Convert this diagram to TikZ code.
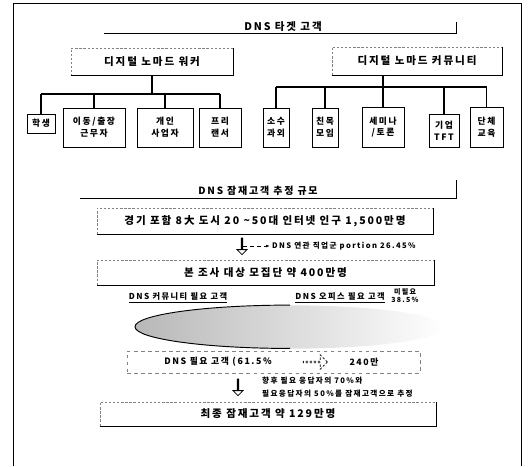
\documentclass[tikz,border=0pt]{standalone}
\usepackage{fontspec}
\setmainfont{Noto Sans CJK KR}[LetterSpace=18]
\usepackage{tikz}
\usetikzlibrary{arrows.meta, positioning, shapes.geometric, shapes.arrows}
\definecolor{faintgray}{RGB}{130,130,130}

\begin{document}
\begin{tikzpicture}[x=0.03cm, y=-0.03cm,
      panel/.style={draw=faintgray, dash pattern=on 2pt off 1.5pt, inner sep=0,
                    font=\fontsize{9}{10}\selectfont\bfseries},
      leaf/.style={draw, line width=0.8pt, inner sep=0, align=center,
                   font=\fontsize{7.5}{10}\selectfont\bfseries},
      heading/.style={inner sep=0, font=\fontsize{9}{10}\selectfont\bfseries},
      label/.style={inner sep=0, font=\fontsize{7.5}{9}\selectfont\bfseries},
      note/.style={inner sep=0, font=\fontsize{6.5}{8}\selectfont\bfseries},
      tree/.style={line width=1.3pt},
      rim/.style={line width=1.1pt},
      downarr/.style={single arrow, draw, line width=0.7pt, rotate=-90, inner sep=0,
                      minimum width=0.3cm, minimum height=0.5cm,
                      single arrow head extend=0.09cm}
  ]
    \useasboundingbox (0,0) rectangle (528,466);
    \draw[line width=0.6pt] (13,466) -- (13,3) -- (521,3) -- (521,466);

    % target customers
    \node[heading] (target) at (283,27) {DNS 타겟 고객};
    \coordinate (t1l) at (104,33);
    \coordinate (t1r) at (456,33);
    \draw[line width=0.5pt] (t1l) -- (t1r) -- ++(0,-11);

    \node[panel, minimum width=4.86cm, minimum height=0.81cm] (worker) at (152,61.5)
      {디지털 노마드 워커};
    \node[panel, minimum width=5.1cm, minimum height=0.84cm] (community) at (417,61)
      {디지털 노마드 커뮤니티};

    \node[leaf, minimum width=0.84cm, minimum height=0.57cm] (student) at (41,123.5) {학생};
    \node[leaf, minimum width=1.86cm, minimum height=1.17cm] (mobile) at (94,127.5) {이동/출장\\근무자};
    \node[leaf, minimum width=1.68cm, minimum height=1.17cm] (business) at (165,127.5) {개인\\사업자};
    \node[leaf, minimum width=1.26cm, minimum height=1.17cm] (freelancer) at (220,127.5) {프리\\랜서};

    \node[leaf, minimum width=0.78cm, minimum height=1.17cm] (tutor) at (276,127.5) {소수\\과외};
    \node[leaf, minimum width=0.78cm, minimum height=1.17cm] (social) at (325,127.5) {친목\\모임};
    \node[leaf, minimum width=1.26cm, minimum height=1.2cm] (seminar) at (383,127) {세미나\\/토론};
    \node[leaf, minimum width=0.9cm, minimum height=0.99cm] (corp) at (444,130.5) {기업\\TFT};
    \node[leaf, minimum width=0.99cm, minimum height=1.2cm] (group) at (486.5,127) {단체\\교육};

    \coordinate (lbar) at (152,94);
    \coordinate (rbar) at (383,87);
    \draw[tree] (worker.south) -- (worker.south |- lbar);
    \draw[tree] (student.north |- lbar) -- (freelancer.north |- lbar);
    \foreach \c in {student,mobile,business,freelancer}
      \draw[tree] (\c.north |- lbar) -- (\c.north);
    \draw[tree] (community.south -| seminar.north) -- (seminar.north);
    \draw[tree] (tutor.north |- rbar) -- (group.north |- rbar);
    \foreach \c in {tutor,social,corp,group}
      \draw[tree] (\c.north |- rbar) -- (\c.north);

    % potential customer estimate
    \node[heading, font=\fontsize{8.5}{10}\selectfont\bfseries] (estimate) at (258,191)
      {DNS 잠재고객 추정 규모};
    \coordinate (t2l) at (80,198);
    \coordinate (t2r) at (456,198);
    \draw[line width=0.5pt] (t2l) -- (t2r) -- ++(0,-18);

    \node[panel, minimum width=10.08cm, minimum height=0.78cm] (pop) at (265,221)
      {경기 포함 8大 도시 20 \textasciitilde50대 인터넷 인구 1,500만명};
    \node[downarr] (dn1) at (242,246) {};
    \node[note, anchor=west] (portion) at (272,246) {DNS 연관 직업군 portion 26.45\%};
    \draw[dashed, -{Latex[length=3pt]}, shorten >=2pt] (dn1) -- (portion);

    \node[panel, minimum width=10.11cm, minimum height=0.75cm] (survey) at (265.5,272.5)
      {본 조사 대상 모집단 약 400만명};

    \node[label, font=\fontsize{7}{8}\selectfont\bfseries] (commneed) at (178,298)
      {\underline{DNS 커뮤니티 필요 고객}};
    \node[label, font=\fontsize{7}{8}\selectfont\bfseries] (officeneed) at (340,298)
      {\underline{DNS 오피스 필요 고객}};
    \node[note, font=\fontsize{6}{7}\selectfont\bfseries] (noneed) at (405,292) {미필요};
    \node[note, font=\fontsize{6}{7}\selectfont\bfseries, below=1pt of noneed] (noneedpct) {38.5\%};

    \node[ellipse, minimum width=9.3cm, minimum height=1.3cm, inner sep=0,
          left color=black!28, middle color=black!8, right color=white] (blob) at (290,327) {};
    \draw[line width=0.8pt] (blob.north) arc[start angle=90, end angle=270,
          x radius=4.65cm, y radius=0.65cm];

    \node[draw=faintgray, dashed, minimum width=8.79cm, minimum height=0.66cm,
          inner sep=0] (need) at (273.5,362) {};
    \node[label] (needtxt) at (218,362) {DNS 필요 고객 (61.5\%};
    \node[single arrow, draw=black, line width=0.6pt, dash pattern=on 2pt off 1.5pt,
          inner sep=0, minimum width=0.42cm, minimum height=0.72cm,
          single arrow head extend=0.1cm] (chev) at (315,362) {};
    \node[label] (needamt) at (364,362) {240만};

    \node[downarr] (dn2) at (238,387) {};
    \node[note, anchor=west, align=left, font=\fontsize{6.5}{11}\selectfont\bfseries]
      (ratio) at (262,387) {향후 필요 응답자의 70\%와\\필요응답자의 50\%를 잠재고객으로 추정};

    \node[panel, minimum width=10.08cm, minimum height=0.72cm] (final) at (268,414)
      {최종 잠재고객 약 129만명};

    % heavy right and bottom edges
    \foreach \p in {worker,community,pop,survey,final}
      \draw[rim] (\p.north east) -- (\p.south east) -- (\p.south west);
  \end{tikzpicture}
\end{document}
